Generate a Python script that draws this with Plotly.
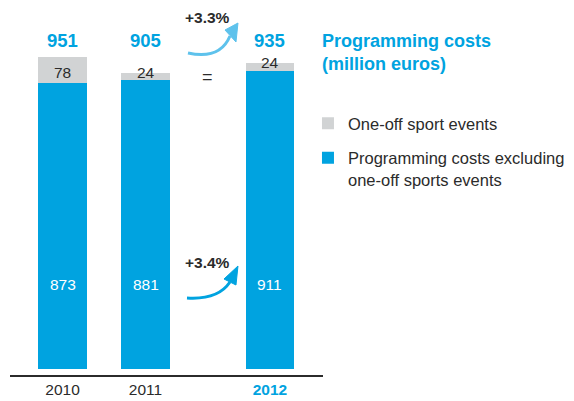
import plotly.graph_objects as go

# Programming costs (million euros)
years = ["2010", "2011", "2012"]
x_pos = [0, 1, 2.5]
excl_sports = [873, 881, 911]
sport_events = [78, 24, 24]
totals = [951, 905, 935]
growth_labels = ["+3.3%", "+3.4%"]

BLUE = "#00A3E0"
GREY = "#D1D3D4"
LIGHT_BLUE = "#5EC2EC"
DARK = "#2B2B2B"
FONT = "Liberation Sans Narrow, Liberation Sans, Arial, sans-serif"

fig = go.Figure()
fig.add_trace(go.Bar(x=x_pos, y=excl_sports, width=0.59, marker_color=BLUE, marker_line_width=0,
                     name="Programming costs excluding<br>one-off sports events",
                     legendgroup="b", legendrank=2, hoverinfo="skip"))
fig.add_trace(go.Bar(x=x_pos, y=sport_events, width=0.59, marker_color=GREY, marker_line_width=0,
                     name="One-off sport events", legendgroup="a", legendrank=1, hoverinfo="skip"))

# pixel -> data helper for the decorative arrows
def px(xp, yp):
    return (xp - 62.5) / 83, (369 - yp) / 0.3276

annots = []
for x, t in zip(x_pos, totals):
    annots.append(dict(x=x, y=px(0, 40)[1], text="<b>%d</b>" % t, showarrow=False,
                       font=dict(size=18.5, color=BLUE)))
for x, v in zip(x_pos, excl_sports):
    annots.append(dict(x=x, y=px(0, 284)[1], text=str(v), showarrow=False,
                       font=dict(size=15.5, color="white")))
for x, b, g in zip(x_pos, excl_sports, sport_events):
    ly = b + g if g < 40 else b + g / 2 - 8
    annots.append(dict(x=x, y=ly, text=str(g), showarrow=False,
                       font=dict(size=15.5, color=DARK)))

mid = (x_pos[1] + x_pos[2]) / 2
annots.append(dict(x=mid, y=px(0, 17)[1], text="<b>" + growth_labels[0] + "</b>", showarrow=False,
                   font=dict(size=15.5, color=DARK)))
annots.append(dict(x=mid, y=px(0, 262)[1], text="<b>" + growth_labels[1] + "</b>", showarrow=False,
                   font=dict(size=15.5, color=DARK)))
annots.append(dict(x=mid, y=px(0, 77)[1], text="=", showarrow=False,
                   font=dict(size=18, color=DARK)))

# chart title on the right, above the legend
annots.append(dict(xref="paper", yref="paper", x=0.990, y=0.923, xanchor="left", yanchor="top",
                   align="left", showarrow=False,
                   text="<b>Programming costs<br>(million euros)</b>",
                   font=dict(size=18, color=BLUE)))

def arrow(p0, c, p1, tip, b1, b2, color):
    (x0, y0), (cx, cy), (x1, y1) = px(*p0), px(*c), px(*p1)
    (tx, ty), (ax, ay), (bx, by) = px(*tip), px(*b1), px(*b2)
    return [
        dict(type="path", xref="x", yref="y", path=f"M {x0},{y0} Q {cx},{cy} {x1},{y1}",
             line=dict(color=color, width=3)),
        dict(type="path", xref="x", yref="y", path=f"M {tx},{ty} L {ax},{ay} L {bx},{by} Z",
             fillcolor=color, line=dict(color=color, width=1)),
    ]

shapes = arrow((188, 53), (220, 60), (230, 36), (238, 23), (225, 30), (236, 42), LIGHT_BLUE)
shapes += arrow((187, 298), (218, 300), (230, 282), (238, 266), (224, 279), (236, 285), BLUE)

fig.update_layout(
    width=574, height=401,
    margin=dict(l=10, r=251, t=0, b=26, autoexpand=False),
    barmode="stack", bargap=0,
    plot_bgcolor="white", paper_bgcolor="white",
    font=dict(family=FONT, color=DARK),
    annotations=annots, shapes=shapes,
    xaxis=dict(range=[-0.633, 3.139], tickvals=x_pos,
               ticktext=years[:2] + ["<span style='color:%s'><b>%s</b></span>" % (BLUE, years[2])],
               showline=True, linecolor=DARK, linewidth=1.5, ticks="", showgrid=False,
               zeroline=False, tickfont=dict(size=15.5, color=DARK), fixedrange=True),
    yaxis=dict(range=[-18.3, 1126.4], visible=False, fixedrange=True),
    legend=dict(x=0.952, xanchor="left", y=0.717, yanchor="top",
                traceorder="grouped", tracegroupgap=10, valign="top",
                font=dict(size=16.5, color=DARK)),
    showlegend=True,
)

fig.write_html("out.html", config={"displayModeBar": False},
               post_script="document.body.style.margin='0';")
